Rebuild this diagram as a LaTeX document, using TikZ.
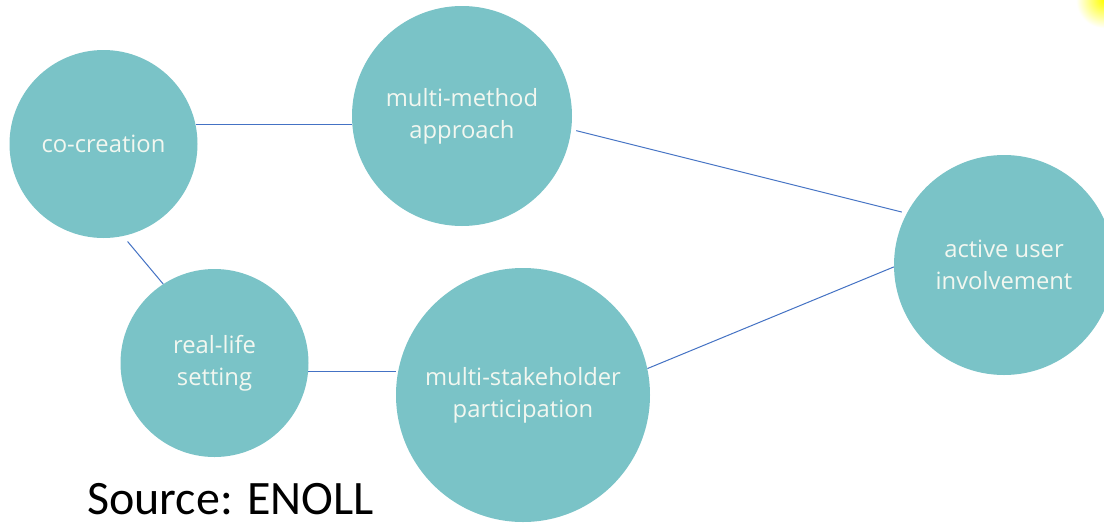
\documentclass[tikz,border=0pt]{standalone}
\usepackage{fontspec}
\setmainfont{Open Sans}
\newfontfamily\srcfont{Carlito}
\definecolor{bubble}{RGB}{122,195,199}
\definecolor{link}{RGB}{68,114,196}
\definecolor{bubbletext}{RGB}{242,247,240}
\begin{document}
\begin{tikzpicture}[x=1pt,y=-1pt,
  bubble/.style={circle, fill=bubble, inner sep=0pt, align=center,
    text=bubbletext, font=\fontsize{23.8}{32}\selectfont},
  linkline/.style={draw=link, line width=1pt}]
\clip (0,0) rectangle (1104,523);
\fill[white] (0,0) rectangle (1104,523);
\shade[inner color=yellow, outer color=white] (1104,0) circle[radius=28];
\node[bubble, minimum size=188pt] (cc) at (103.5,144) {co-creation};
\node[bubble, minimum size=220pt] (mm) at (462,116) {multi-method\\approach};
\node[bubble, minimum size=220pt] (au) at (1004,265) {active user\\involvement};
\node[bubble, minimum size=188pt] (rl) at (214.5,363) {real-life\\setting};
\node[bubble, minimum size=254pt] (ms) at (523,395) {multi-stakeholder\\participation};
\draw[linkline] (cc.12.8) -- (cc.12.8 -| mm.west);
\draw[linkline, shorten <=7pt] (cc.-78) -- (rl.123.3);
\draw[linkline] (rl.-5.5) -- (rl.-5.5 -| ms.west);
\draw[linkline] (ms.12.2) -- (au.181.6);
\draw[linkline, shorten <=5pt, shorten >=5pt] (mm.-7.7) -- (au.152);
\node[anchor=base west, inner sep=0pt, text depth=0pt, font=\srcfont\fontsize{48}{56}\selectfont] (src) at (87,514) {Source: ENOLL};
\end{tikzpicture}
\end{document}
